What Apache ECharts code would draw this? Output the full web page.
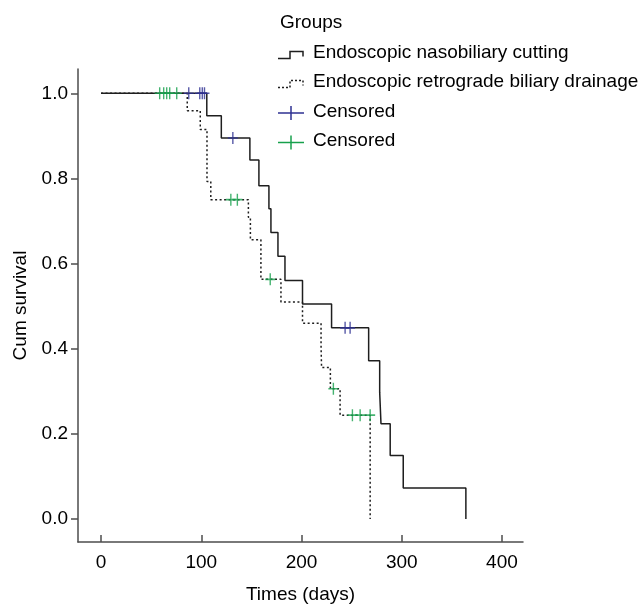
<!DOCTYPE html>
<html>
<head>
<meta charset="utf-8">
<script src="https://cdn.jsdelivr.net/npm/echarts@6/dist/echarts.min.js"></script>
<style>
html,body{margin:0;padding:0;background:#fff;}
#main{width:642px;height:609px;}
</style>
</head>
<body>
<div id="main"></div>
<script>
// Kaplan-Meier step points [day, cumulative survival]
var encSteps = [[0,1.0],[105.5,0.947],[120,0.895],[148.5,0.843],[157.5,0.783],[167.5,0.729],[169.5,0.673],[176.5,0.617],[183.5,0.560],[201,0.505],[230,0.449],[267,0.372],[278,0.298],[279.3,0.224],[288.5,0.149],[301.5,0.073],[364,0.0]];
var erbdSteps = [[0,1.0],[86,0.959],[99,0.915],[105.7,0.793],[109.5,0.750],[147,0.709],[149,0.656],[159.5,0.563],[179.5,0.510],[201,0.460],[219.5,0.407],[220,0.356],[228.8,0.306],[238.5,0.244],[268.5,0.0]];
// censored observations [day, survival]
var encCensored = [[87.5,1.0],[98.5,1.0],[101,1.0],[103.2,1.0],[131.5,0.895],[243.5,0.449],[248.5,0.449]];
var erbdCensored = [[58.5,1.0],[62.5,1.0],[65.5,1.0],[68.5,1.0],[75.5,1.0],[129.5,0.750],[136,0.750],[168.8,0.563],[231.8,0.306],[250.8,0.244],[258.5,0.244],[268.5,0.244]];
var xTicks = [0,100,200,300,400];
var yTicks = [0,0.2,0.4,0.6,0.8,1.0];
var groupNames = ['Endoscopic nasobiliary cutting','Endoscopic retrograde biliary drainage','Censored','Censored'];
var legendTitle = 'Groups';

var FONT = 'Liberation Sans';
var BLUE = '#2e3192';
var GREEN = '#17a04c';
var plusPath = 'path://M4.3,0H5.7V4.3H10V5.7H5.7V10H4.3V5.7H0V4.3H4.3Z';

var chart = echarts.init(document.getElementById('main'));

var lx = 278, tx = 313;
var rows = [54.5, 83.5, 113, 142.5];
var graphics = [
  {type:'text', left:280, top:24 - 11, style:{text:legendTitle, font:'19px ' + FONT, fill:'#000'}},
  {type:'polyline', shape:{points:[[lx,rows[0]+4],[lx+12,rows[0]+4],[lx+12,rows[0]-3],[lx+25,rows[0]-3],[lx+25,rows[0]+2]]}, style:{stroke:'#1e1e1e', lineWidth:1.5, fill:null}},
  {type:'polyline', shape:{points:[[lx,rows[1]+4],[lx+12,rows[1]+4],[lx+12,rows[1]-3],[lx+25,rows[1]-3],[lx+25,rows[1]+2]]}, style:{stroke:'#1e1e1e', lineWidth:1.5, lineDash:[2,2], fill:null}},
  {type:'line', shape:{x1:lx, y1:rows[2], x2:lx+26, y2:rows[2]}, style:{stroke:BLUE, lineWidth:1.5}},
  {type:'line', shape:{x1:lx+13, y1:rows[2]-7, x2:lx+13, y2:rows[2]+7}, style:{stroke:BLUE, lineWidth:1.5}},
  {type:'line', shape:{x1:lx, y1:rows[3], x2:lx+26, y2:rows[3]}, style:{stroke:GREEN, lineWidth:1.5}},
  {type:'line', shape:{x1:lx+13, y1:rows[3]-7, x2:lx+13, y2:rows[3]+7}, style:{stroke:GREEN, lineWidth:1.5}}
];
for (var i = 0; i < groupNames.length; i++) {
  graphics.push({type:'text', left:tx, top:rows[i] - 11, style:{text:groupNames[i], font:'19px ' + FONT, fill:'#000'}});
}

var option = {
  animation: false,
  backgroundColor: '#fff',
  grid: {left:78, top:69, right:119, bottom:63, containLabel:false},
  xAxis: {
    type: 'value', min: -23, max: 421,
    name: 'Times (days)', nameLocation: 'middle', nameGap: 43,
    nameTextStyle: {fontFamily: FONT, fontSize: 19, color: '#000'},
    axisLine: {show: true, onZero: false, lineStyle: {color: '#4d4d4d', width: 1.5}},
    axisTick: {show: true, inside: true, length: 7, lineStyle: {color: '#4d4d4d', width: 1.5}, customValues: xTicks},
    axisLabel: {fontFamily: FONT, fontSize: 19, color: '#000', margin: 11, customValues: xTicks},
    splitLine: {show: false}
  },
  yAxis: {
    type: 'value', min: -0.054, max: 1.057,
    name: 'Cum survival', nameLocation: 'middle', nameGap: 48,
    nameTextStyle: {fontFamily: FONT, fontSize: 19, color: '#000'},
    axisLine: {show: true, onZero: false, lineStyle: {color: '#4d4d4d', width: 1.5}},
    axisTick: {show: true, inside: false, length: 7, lineStyle: {color: '#4d4d4d', width: 1.5}, customValues: yTicks},
    axisLabel: {fontFamily: FONT, fontSize: 19, color: '#000', margin: 10, customValues: yTicks,
      formatter: function(v){ return v.toFixed(1); }},
    splitLine: {show: false}
  },
  graphic: graphics,
  series: [
    {name: groupNames[0], type: 'line', step: 'end', data: encSteps, symbol: 'none',
     lineStyle: {color: '#1e1e1e', width: 1.5}, z: 2},
    {name: groupNames[1], type: 'line', step: 'end', data: erbdSteps, symbol: 'none',
     lineStyle: {color: '#1e1e1e', width: 1.5, type: [2, 2.5]}, z: 2},
    {name: 'Censored A', type: 'scatter', data: encCensored, symbol: plusPath, symbolSize: [10, 12],
     itemStyle: {color: BLUE}, z: 3},
    {name: 'Censored B', type: 'scatter', data: erbdCensored, symbol: plusPath, symbolSize: [10, 12],
     itemStyle: {color: GREEN}, z: 3}
  ]
};
chart.setOption(option);
</script>
</body>
</html>
